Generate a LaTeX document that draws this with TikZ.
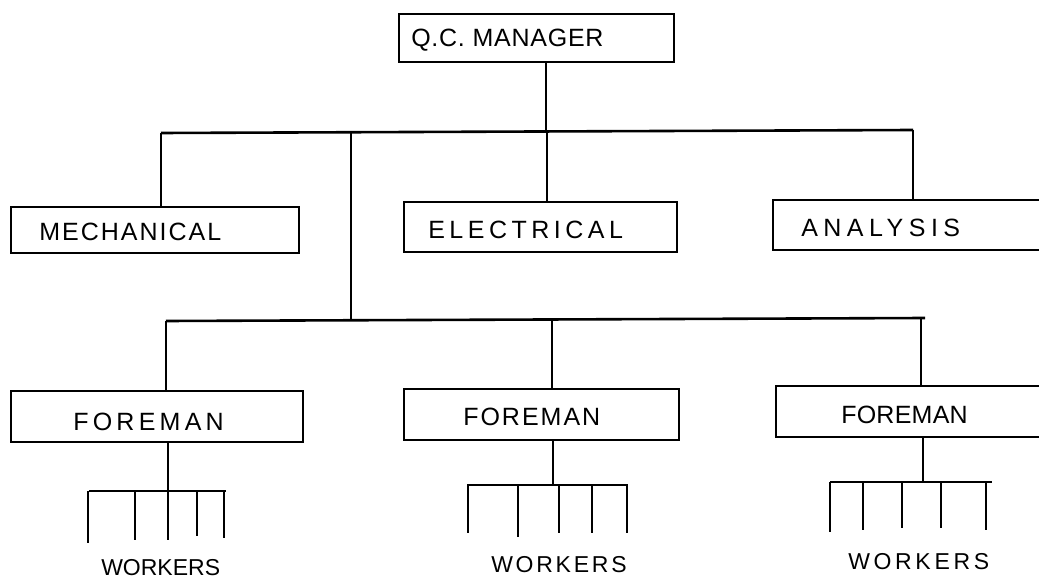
\documentclass[tikz,border=0pt]{standalone}
\usepackage{fontspec}
\newfontfamily\handfont{Liberation Sans}
\begin{document}
\begin{tikzpicture}[x=1pt,y=-1pt,line width=2.5pt,
  box/.style={draw,rectangle,anchor=north west,inner sep=0pt,line width=2.4pt},
  lbl/.style={anchor=west,inner sep=0pt,font={\fontsize{25}{29}\selectfont\handfont\addfontfeature{LetterSpace=#1}}},
  wlbl/.style={anchor=west,inner sep=0pt,font={\fontsize{23}{27}\selectfont\handfont\addfontfeature{LetterSpace=#1}}},
  wire/.style={line width=2.6pt}]
\useasboundingbox (0,0) rectangle (1039,580);
\clip (0,0) rectangle (1039,580);

% boxes
\node[box,minimum width=275pt,minimum height=48pt] (qc) at (398,13) {};
\node[box,minimum width=288pt,minimum height=46pt] (mech) at (10,206) {};
\node[box,minimum width=273pt,minimum height=50pt] (elec) at (403,201) {};
\node[box,minimum width=290pt,minimum height=50pt] (anal) at (772,199) {};
\node[box,minimum width=292pt,minimum height=51pt] (fm1) at (10,390) {};
\node[box,minimum width=275pt,minimum height=51pt] (fm2) at (403,388) {};
\node[box,minimum width=290pt,minimum height=51pt] (fm3) at (775,385) {};

% labels
\node[lbl=3] (tqc) at (410,40) {Q.C. MANAGER};
\node[lbl=8] (tmech) at (38,232) {MECHANICAL};
\node[lbl=18] (telec) at (427,230) {ELECTRICAL};
\node[lbl=22] (tanal) at (800,228) {ANALYSIS};
\node[lbl=17] (tfm1) at (72,422) {FOREMAN};
\node[lbl=8] (tfm2) at (462,417) {FOREMAN};
\node[lbl=1] (tfm3) at (840,415) {FOREMAN};
\node[wlbl=0] (tw1) at (100,568) {WORKERS};
\node[wlbl=12] (tw2) at (490,565) {WORKERS};
\node[wlbl=16] (tw3) at (847,562) {WORKERS};

% junctions
\coordinate (jqc) at (546,132);
\coordinate (jL) at (161,133);
\coordinate (jT) at (351,132);
\coordinate (jE) at (547,132);
\coordinate (jR) at (913,130);
\coordinate (kL) at (166,321);
\coordinate (kT) at (351,320);
\coordinate (kM) at (552,319);
\coordinate (kR) at (921,318);
\coordinate (kE) at (925,318);

\draw[wire] (qc.south -| jqc) -- (jqc);
\draw[wire] (jL) -- (jR);
\draw[wire] (jL) -- (mech.north -| jL);
\draw[wire] (jE) -- (elec.north -| jE);
\draw[wire] (jR) -- (anal.north -| jR);
\draw[wire] (jT) -- (kT);
\draw[wire] (kL) -- (kE);
\draw[wire] (kL) -- (fm1.north -| kL);
\draw[wire] (kM) -- (fm2.north -| kM);
\draw[wire] (kR) -- (fm3.north -| kR);

% workers groups
\coordinate (g1) at (168,491);
\coordinate (g1a) at (89,491);
\coordinate (g1b) at (226,491);
\draw[wire] (fm1.south -| g1) -- (g1);
\draw[wire] (g1a) -- (g1b);
\foreach \x/\b in {88/543,135/540,168/540,197/536,224/538}
  \draw[wire] (\x,491) -- (\x,\b);

\coordinate (g2) at (553,485);
\coordinate (g2a) at (467,485);
\coordinate (g2b) at (628,485);
\draw[wire] (fm2.south -| g2) -- (g2);
\draw[wire] (g2a) -- (g2b);
\foreach \x/\b in {468/533,518/537,559/533,592/533,627/533}
  \draw[wire] (\x,485) -- (\x,\b);

\coordinate (g3) at (923,482);
\coordinate (g3a) at (830,482);
\coordinate (g3b) at (992,482);
\draw[wire] (fm3.south -| g3) -- (g3);
\draw[wire] (g3a) -- (g3b);
\foreach \x/\b in {830/532,863/530,902/528,941/528,986/530}
  \draw[wire] (\x,482) -- (\x,\b);
\end{tikzpicture}
\end{document}
